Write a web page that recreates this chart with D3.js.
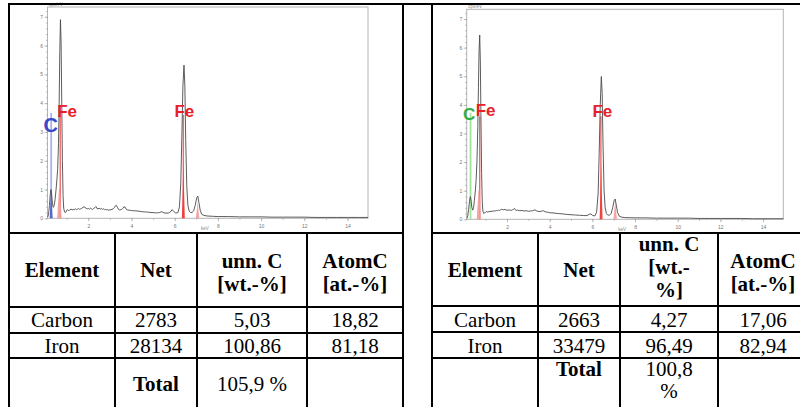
<!DOCTYPE html>
<html><head><meta charset="utf-8">
<script src="https://cdn.jsdelivr.net/npm/d3@7"></script>
<style>body{margin:0;background:#fff}svg{display:block}</style>
</head><body>
<svg id="c" width="800" height="407"></svg>
<script>
// ---------- data ----------
const keVTicks = [2,4,6,8,10,12,14];
const cpsTicks = [0,1,2,3,4,5,6,7];

const spectrum1 = [[0.12,0.04],[0.16,0.15],[0.20,0.45],[0.24,0.85],[0.27,1.0],[0.30,0.85],[0.34,0.5],[0.38,0.38],[0.42,0.45],[0.46,0.65],[0.50,0.95],[0.54,1.3],[0.58,1.7],[0.62,2.6],[0.65,4.0],[0.68,5.8],[0.71,6.9],[0.74,6.1],[0.77,4.0],[0.80,2.0],[0.83,0.8],[0.86,0.35],[0.90,0.22],[0.95,0.2],[1.00,0.28],[1.05,0.3],[1.10,0.26],[1.15,0.3],[1.20,0.32],[1.25,0.29],[1.30,0.31],[1.35,0.3],[1.40,0.33],[1.45,0.3],[1.50,0.32],[1.55,0.34],[1.60,0.31],[1.65,0.33],[1.70,0.35],[1.75,0.38],[1.80,0.4],[1.85,0.37],[1.90,0.35],[1.95,0.33],[2.00,0.34],[2.05,0.32],[2.10,0.35],[2.15,0.33],[2.20,0.31],[2.25,0.34],[2.30,0.37],[2.35,0.41],[2.40,0.34],[2.45,0.33],[2.50,0.35],[2.55,0.32],[2.60,0.34],[2.65,0.31],[2.70,0.33],[2.75,0.3],[2.80,0.31],[2.85,0.29],[2.90,0.3],[2.95,0.28],[3.00,0.29],[3.05,0.3],[3.10,0.31],[3.15,0.33],[3.20,0.37],[3.25,0.43],[3.30,0.45],[3.35,0.38],[3.40,0.31],[3.45,0.29],[3.50,0.3],[3.55,0.31],[3.60,0.35],[3.65,0.4],[3.70,0.39],[3.75,0.32],[3.80,0.29],[3.90,0.28],[4.00,0.27],[4.10,0.26],[4.20,0.26],[4.30,0.25],[4.40,0.24],[4.50,0.23],[4.60,0.22],[4.70,0.22],[4.80,0.21],[4.90,0.2],[5.00,0.2],[5.10,0.19],[5.20,0.19],[5.30,0.2],[5.40,0.23],[5.50,0.19],[5.60,0.18],[5.70,0.18],[5.80,0.22],[5.88,0.3],[5.95,0.24],[6.05,0.18],[6.15,0.2],[6.22,0.4],[6.28,1.2],[6.33,2.8],[6.38,4.6],[6.43,5.32],[6.47,4.6],[6.51,2.7],[6.56,1.1],[6.61,0.45],[6.67,0.25],[6.73,0.2],[6.80,0.2],[6.88,0.26],[6.95,0.45],[7.02,0.72],[7.07,0.77],[7.12,0.55],[7.18,0.28],[7.25,0.14],[7.35,0.1],[7.5,0.08],[7.75,0.07],[8.0,0.06],[8.5,0.06],[9.0,0.05],[9.5,0.05],[10.0,0.05],[10.5,0.04],[11.0,0.04],[11.5,0.04],[12.0,0.04],[12.5,0.03],[13.0,0.03],[13.5,0.03],[14.0,0.03],[14.5,0.03],[14.95,0.03]];

const spectrum2 = [[0.12,0.03],[0.16,0.12],[0.20,0.35],[0.24,0.62],[0.28,0.79],[0.31,0.68],[0.35,0.42],[0.39,0.32],[0.43,0.4],[0.47,0.65],[0.51,0.95],[0.55,1.35],[0.59,2.0],[0.63,3.2],[0.66,4.6],[0.69,5.9],[0.72,6.44],[0.75,5.5],[0.78,3.4],[0.81,1.6],[0.84,0.6],[0.87,0.28],[0.91,0.2],[0.95,0.22],[1.00,0.26],[1.05,0.27],[1.10,0.25],[1.15,0.27],[1.20,0.28],[1.25,0.27],[1.30,0.29],[1.35,0.28],[1.40,0.3],[1.45,0.29],[1.50,0.31],[1.55,0.3],[1.60,0.32],[1.65,0.31],[1.70,0.33],[1.75,0.35],[1.80,0.34],[1.85,0.33],[1.90,0.35],[1.95,0.32],[2.00,0.33],[2.05,0.31],[2.10,0.33],[2.15,0.32],[2.20,0.31],[2.25,0.33],[2.30,0.35],[2.35,0.38],[2.40,0.32],[2.45,0.31],[2.50,0.32],[2.60,0.3],[2.70,0.31],[2.80,0.29],[2.90,0.3],[3.00,0.28],[3.10,0.29],[3.20,0.3],[3.30,0.33],[3.40,0.29],[3.50,0.27],[3.60,0.28],[3.70,0.3],[3.80,0.26],[3.90,0.25],[4.00,0.23],[4.20,0.22],[4.40,0.2],[4.60,0.19],[4.80,0.17],[5.00,0.16],[5.20,0.15],[5.40,0.14],[5.60,0.13],[5.75,0.13],[5.85,0.17],[5.93,0.19],[6.02,0.13],[6.12,0.12],[6.20,0.25],[6.27,0.9],[6.32,2.3],[6.37,4.0],[6.42,4.99],[6.46,4.4],[6.50,2.6],[6.55,1.0],[6.60,0.4],[6.66,0.2],[6.72,0.15],[6.80,0.14],[6.88,0.2],[6.95,0.4],[7.02,0.65],[7.07,0.71],[7.12,0.5],[7.18,0.24],[7.25,0.12],[7.35,0.08],[7.5,0.06],[8.0,0.05],[8.5,0.05],[9.0,0.04],[9.5,0.04],[10.0,0.04],[10.5,0.04],[11.0,0.03],[11.5,0.03],[12.0,0.03],[12.5,0.03],[13.0,0.03],[13.5,0.02],[14.0,0.02],[14.5,0.02],[14.95,0.02]];

// element markers: [symbol, keV, marker height cps]
const markers1 = [["C",0.28,3.66],["Fe",0.70,3.6],["Fe",6.40,3.6]];
const markers2 = [["C",0.29,3.72],["Fe",0.72,3.6],["Fe",6.40,3.6]];

// fitted (deconvoluted) peak areas
const fitC1   = [[0.21,0],[0.25,0.55],[0.28,1.0],[0.31,0.55],[0.35,0]];
const fitFeL1 = [[0.56,0],[0.60,0.55],[0.64,1.0],[0.68,1.05],[0.72,0.6],[0.76,0]];
const fitFeKa1= [[6.33,0],[6.37,1.0],[6.40,1.9],[6.43,1.0],[6.47,0]];
const fitFeKb1= [[6.98,0],[7.03,0.35],[7.06,0.58],[7.09,0.35],[7.14,0]];
const fitFeL2 = [[0.58,0],[0.62,0.5],[0.66,1.0],[0.70,1.05],[0.74,0.6],[0.77,0]];
const fitFeKa2= [[6.34,0],[6.38,1.0],[6.41,1.97],[6.44,1.0],[6.48,0]];
const fitFeKb2= [[6.99,0],[7.04,0.4],[7.07,0.65],[7.10,0.4],[7.15,0]];

// tables
const header1 = [["Element"],["Net"],["unn. C","[wt.-%]"],["AtomC","[at.-%]"]];
const header2 = [["Element"],["Net"],["unn. C","[wt.-","%]"],["AtomC","[at.-%]"]];
const rows1 = [["Carbon","2783","5,03","18,82"],["Iron","28134","100,86","81,18"]];
const rows2 = [["Carbon","2663","4,27","17,06"],["Iron","33479","96,49","82,94"]];
const total1 = ["","Total",["105,9 %"],""];
const total2 = ["","Total",["100,8","%"],""];

// ---------- drawing ----------
const svg = d3.select("#c");
const elColor = {C1:"#3a48c8", C2:"#2fae4a", Fe:"#e8202a"};
const SANS = '"Liberation Sans", Arial, sans-serif';
const SERIF = '"Liberation Serif", "Times New Roman", serif';

function spectrum(p){
  const g = svg.append("g");
  const x = d3.scaleLinear().domain([0.11,14.95]).range([p.x0,p.x1]);
  const y = d3.scaleLinear().domain([0,7.34]).range([p.y1,p.y0]);
  g.append("rect").attr("x",p.x0).attr("y",p.y0).attr("width",p.x1-p.x0).attr("height",p.y1-p.y0)
    .attr("fill","none").attr("stroke","#b4b4b4").attr("stroke-width",1);
  const ya = d3.axisLeft(y).tickValues(cpsTicks).tickSize(3).tickFormat(d3.format("d"));
  const gy = g.append("g").attr("transform",`translate(${p.x0},0)`).call(ya);
  const yminor = d3.range(0,7.3,0.2);
  g.append("g").attr("transform",`translate(${p.x0},0)`).call(d3.axisLeft(y).tickValues(yminor).tickSize(1.6).tickFormat(""));
  const xa = d3.axisBottom(x).tickValues(keVTicks).tickSize(3).tickFormat(d3.format("d"));
  g.append("g").attr("transform",`translate(0,${p.y1})`).call(xa);
  g.append("g").attr("transform",`translate(0,${p.y1})`).call(d3.axisBottom(x).tickValues(d3.range(1,15,1)).tickSize(1.6).tickFormat(""));
  g.selectAll(".domain").remove();
  g.selectAll(".tick line").attr("stroke","#999").attr("stroke-width",0.6);
  g.selectAll(".tick text").attr("fill","#777").style("font-family",SANS).style("font-size","5px");
  gy.selectAll(".tick text").attr("x",-4.5);
  g.append("text").attr("x",p.x0+1.5).attr("y",p.y0-1.2).attr("fill","#888")
    .style("font-family",SANS).style("font-size","4.5px").text("cps/eV");
  g.append("text").attr("x",x(7.4)).attr("y",p.y1+12).attr("text-anchor","middle").attr("fill","#888")
    .style("font-family",SANS).style("font-size","4.5px").text("keV");

  const area = d3.area().x(d=>x(d[0])).y0(y(0)).y1(d=>y(d[1]));
  p.markers.forEach(m=>{
    const col = m[0]==="C" ? p.cLine : "#f06a6a";
    g.append("line").attr("x1",x(m[1])).attr("x2",x(m[1])).attr("y1",y(0)).attr("y2",y(m[2]))
      .attr("stroke",col).attr("stroke-width",m[0]==="C"?1.8:1.4);
  });
  p.fills.forEach(f=>{
    g.append("path").datum(f.d).attr("d",area).attr("fill",f.c).attr("fill-opacity",f.o);
  });
  const line = d3.line().x(d=>x(d[0])).y(d=>y(d[1]));
  g.append("path").datum(p.data).attr("d",line).attr("fill","none").attr("stroke","#4a4a4a").attr("stroke-width",0.9);
  p.markers.forEach((m,i)=>{
    const L = p.labels[i];
    g.append("text").attr("x",x(m[1])+L.dx).attr("y",y(L.by)).attr("text-anchor",L.a)
      .attr("fill",m[0]==="C"?p.cCol:elColor.Fe)
      .style("font-family",SANS).style("font-weight","bold")
      .style("font-size",L.fs+"px").text(m[0]);
  });
}

spectrum({x0:47.5,x1:368,y0:7,y1:218.3,data:spectrum1,markers:markers1,
  cLine:"#a9b1f2", cCol:elColor.C1,
  fills:[{d:fitC1,c:"#4656c4",o:0.85},{d:fitFeL1,c:"#f39a9a",o:0.9},{d:fitFeKa1,c:"#f03a3a",o:0.9},{d:fitFeKb1,c:"#f39a9a",o:0.9}],
  labels:[{dx:-0.5,by:3.0,a:"middle",fs:20},{dx:-3,by:3.52,a:"start",fs:17},{dx:1,by:3.52,a:"middle",fs:17}]});
spectrum({x0:466.7,x1:783.3,y0:9.3,y1:219.3,data:spectrum2,markers:markers2,
  cLine:"#9fe39f", cCol:elColor.C2,
  fills:[{d:fitFeL2,c:"#f39a9a",o:0.9},{d:fitFeKa2,c:"#f03a3a",o:0.9},{d:fitFeKb2,c:"#f39a9a",o:0.9}],
  labels:[{dx:-1.5,by:3.47,a:"middle",fs:17},{dx:-4,by:3.6,a:"start",fs:17},{dx:1.5,by:3.57,a:"middle",fs:17}]});

// ---------- table grid ----------
const grid = svg.append("g").attr("stroke","#000").attr("stroke-width",2);
function ln(x1,y1,x2,y2){grid.append("line").attr("x1",x1).attr("y1",y1).attr("x2",x2).attr("y2",y2);}
ln(8,4,800,4);
[9,403,432].forEach(xv=>ln(xv,3,xv,407));
[233,307,333,358].forEach(yv=>ln(9,yv,403,yv));
[233,306,332,358].forEach(yv=>ln(432,yv,800,yv));
[115,197,307].forEach(xv=>ln(xv,233,xv,407));
[538,620,718].forEach(xv=>ln(xv,233,xv,407));

function table(cx, header, headBase, rows, rowBase, total, totBase, lh){
  const g = svg.append("g").style("font-family",SERIF).style("font-size","21px").attr("fill","#000");
  header.forEach((lines,i)=>{
    const b = headBase[lines.length];
    lines.forEach((t,j)=>g.append("text").attr("x",cx[i]).attr("y",b[j]).attr("text-anchor","middle").style("font-weight","bold").text(t));
  });
  rows.forEach((r,ri)=>r.forEach((t,i)=>g.append("text").attr("x",cx[i]).attr("y",rowBase[ri]).attr("text-anchor","middle").text(t)));
  total.forEach((t,i)=>{
    const lines = Array.isArray(t)?t:[t];
    lines.forEach((s,j)=>g.append("text").attr("x",cx[i]).attr("y",totBase+j*lh).attr("text-anchor","middle")
      .style("font-weight",i===1?"bold":"normal").text(s));
  });
}
table([62,156,252,355], header1, {1:[277],2:[268,291],3:[251,274,297]}, rows1, [327,353], total1, 391, 23);
table([485,579,669,763], header2, {1:[277],2:[268,291],3:[251,274,297]}, rows2, [327,353], total2, 375.5, 22);
</script>
</body></html>
